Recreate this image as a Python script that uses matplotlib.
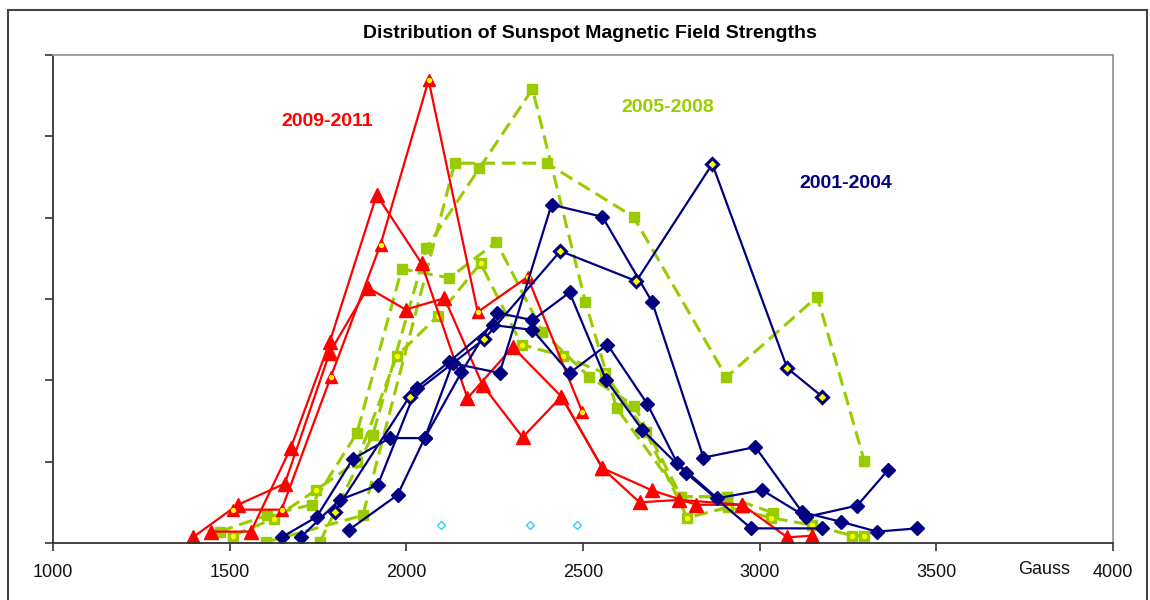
import matplotlib
matplotlib.use("Agg")
import matplotlib.pyplot as plt
from matplotlib.patches import Rectangle

plt.rcParams['font.family'] = ['Liberation Sans', 'DejaVu Sans']

# field strength (Gauss) and relative counts for each curve
red_a_g = [1447, 1560, 1673, 1783, 1916, 2043, 2173, 2301, 2439, 2555, 2694, 2821, 2951, 3078, 3149]
red_a_v = [0.14, 0.14, 1.17, 2.47, 4.28, 3.44, 1.78, 2.41, 1.80, 0.92, 0.65, 0.47, 0.47, 0.07, 0.09]
red_b_g = [1396, 1523, 1656, 1783, 1891, 1998, 2108, 2216, 2329, 2439, 2555, 2660, 2773, 2951]
red_b_v = [0.07, 0.47, 0.73, 2.34, 3.14, 2.87, 3.01, 1.94, 1.30, 1.80, 0.92, 0.50, 0.53, 0.47]
red_c_g = [1509, 1647, 1786, 1927, 2063, 2202, 2343, 2498]
red_c_v = [0.41, 0.41, 2.04, 3.67, 5.69, 2.84, 3.27, 1.61]

grn_a_g = [1755, 1905, 2057, 2207, 2357, 2507, 2595, 2778, 2908]
grn_a_v = [0.01, 1.33, 3.63, 4.61, 5.58, 2.96, 1.66, 0.57, 0.57]
grn_b_g = [1602, 1877, 2137, 2397, 2643, 2906, 3163, 3296]
grn_b_v = [0.01, 0.34, 4.67, 4.67, 4.01, 2.04, 3.03, 1.01]
grn_c_g = [1472, 1605, 1732, 1860, 1987, 2122, 2255, 2385, 2518, 2645, 2778, 2908, 3038]
grn_c_v = [0.14, 0.34, 0.47, 1.35, 3.37, 3.26, 3.70, 2.60, 2.04, 1.69, 0.57, 0.57, 0.37]
grn_d_g = [1509, 1625, 1744, 1860, 1973, 2089, 2210, 2326, 2442, 2561, 2677, 2795, 2911, 3033, 3149, 3262, 3296]
grn_d_v = [0.09, 0.30, 0.65, 1.00, 2.30, 2.79, 3.44, 2.44, 2.30, 2.09, 1.37, 0.31, 0.44, 0.31, 0.22, 0.09, 0.09]

blu_a_g = [1647, 1746, 1848, 1953, 2052, 2131, 2264, 2411, 2555, 2696, 2841, 2988, 3120, 3231, 3332, 3446]
blu_a_v = [0.07, 0.32, 1.03, 1.29, 1.29, 2.21, 2.09, 4.16, 4.01, 2.96, 1.05, 1.18, 0.38, 0.26, 0.14, 0.18]
blu_b_g = [1701, 1811, 1919, 2029, 2122, 2244, 2357, 2462, 2569, 2682, 2767, 2880, 3007, 3132, 3276, 3364]
blu_b_v = [0.07, 0.53, 0.71, 1.91, 2.23, 2.68, 2.62, 2.09, 2.44, 1.71, 0.98, 0.55, 0.65, 0.32, 0.46, 0.90]
blu_c_g = [1837, 1975, 2052, 2156, 2258, 2357, 2462, 2566, 2668, 2792, 2976, 3177]
blu_c_v = [0.16, 0.59, 1.29, 2.10, 2.83, 2.74, 3.08, 2.00, 1.39, 0.86, 0.18, 0.18]
blu_d_g = [1797, 2009, 2221, 2436, 2651, 2866, 3078, 3177]
blu_d_v = [0.38, 1.80, 2.51, 3.59, 3.22, 4.66, 2.15, 1.80]

cyan_g = [2097, 2349, 2484]
cyan_v = [0.22, 0.22, 0.22]

xticks = [1000, 1500, 2000, 2500, 3000, 3500, 4000]

RED = '#FF0000'
GREEN = '#99CC00'
NAVY = '#000080'
YELLOW = '#FFFF00'

fig = plt.figure(figsize=(11.5, 6), dpi=100)
ax = fig.add_axes([53 / 1150, 1 - 543 / 600, 1060 / 1150, 488 / 600])

dash = dict(linestyle=(0, (4.5, 2.2)), lw=2.2, color=GREEN)
for g, v in [(grn_a_g, grn_a_v), (grn_b_g, grn_b_v), (grn_c_g, grn_c_v)]:
    ax.plot(g, v, marker='s', ms=7.5, mfc=GREEN, mec=GREEN, **dash)
ax.plot(grn_d_g, grn_d_v, marker='s', ms=6.5, mfc=GREEN, mec=GREEN, **dash)
ax.plot(grn_d_g, grn_d_v, 'o', ms=2.8, color=YELLOW, mec=YELLOW, linestyle='none')

for g, v in [(red_a_g, red_a_v), (red_b_g, red_b_v)]:
    ax.plot(g, v, color=RED, lw=1.6, marker='^', ms=10, mfc=RED, mec=RED)
ax.plot(red_c_g, red_c_v, color=RED, lw=1.6, marker='^', ms=8, mfc=RED, mec=RED)
ax.plot(red_c_g, red_c_v, 'o', ms=2.8, color=YELLOW, mec=YELLOW, linestyle='none')

for g, v in [(blu_a_g, blu_a_v), (blu_b_g, blu_b_v), (blu_c_g, blu_c_v)]:
    ax.plot(g, v, color=NAVY, lw=1.6, marker='D', ms=7.5, mfc=NAVY, mec=NAVY)
ax.plot(blu_d_g, blu_d_v, color=NAVY, lw=1.6, marker='D', ms=6.5, mfc=YELLOW, mec=NAVY, mew=2.2)

ax.plot(cyan_g, cyan_v, 'D', ms=4, mfc='white', mec='#33CCFF', mew=1, linestyle='none')

ax.set_xlim(1000, 4000)
ax.set_ylim(0, 6)
ax.set_xticks(xticks)
ax.set_yticks(range(7))
ax.set_yticklabels([])
ax.tick_params(axis='both', direction='out', length=6, width=1.2, color='#333333')
ax.tick_params(axis='x', labelsize=13, pad=9, labelcolor='#111111')

for s in ['left', 'bottom']:
    ax.spines[s].set_color('#333333')
    ax.spines[s].set_linewidth(1.3)
for s in ['top', 'right']:
    ax.spines[s].set_color('#999999')
    ax.spines[s].set_linewidth(1.3)

ax.text(3804, -0.055, 'Gauss', transform=ax.get_xaxis_transform(), ha='center', va='center',
        fontsize=13, clip_on=False, color='#111111')

ax.text(1775, 5.18, '2009-2011', color=RED, fontsize=14, fontweight='bold', ha='center', va='center')
ax.text(2739, 5.36, '2005-2008', color=GREEN, fontsize=14, fontweight='bold', ha='center', va='center')
ax.text(3245, 4.42, '2001-2004', color=NAVY, fontsize=14, fontweight='bold', ha='center', va='center')

fig.text(590 / 1150, 1 - 34 / 600, 'Distribution of Sunspot Magnetic Field Strengths',
         ha='center', va='center', fontsize=14, fontweight='bold')

# chart area frame
fig.patches.append(Rectangle((8 / 1150, -0.1), 1139 / 1150, 1.1 - 10 / 600,
                             transform=fig.transFigure, fill=False,
                             edgecolor='#444444', lw=1.5))

fig.savefig('out.png', dpi=100, facecolor='white')
